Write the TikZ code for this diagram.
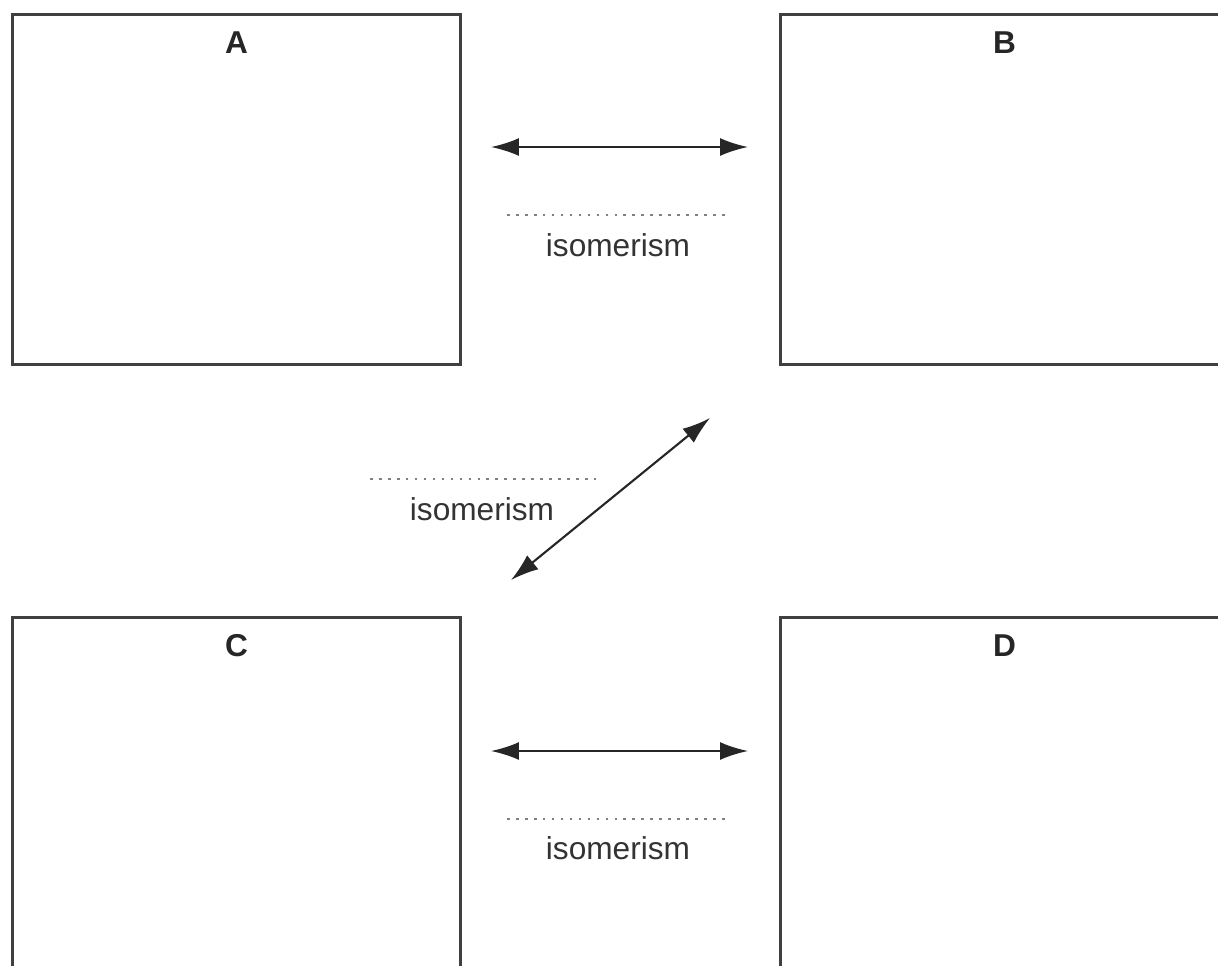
\documentclass[tikz,border=0pt]{standalone}
\usepackage{fontspec}
\setmainfont{Liberation Sans}
\usetikzlibrary{positioning}
\usetikzlibrary{arrows.meta}
\newcommand\boxwidth{8.96cm}
\newcommand\boxheight{7cm}
\tikzset{
    isobox/.style = {draw=black!75, line width=1.7pt, minimum width=\boxwidth, minimum height=\boxheight, inner sep=0pt, anchor=north west},
    boxletter/.style = {font=\fontsize{18}{21}\selectfont\bfseries, text=black!85, inner sep=0pt},
    isoarrow/.style = {{Latex[length=0.56cm,width=0.36cm]}-{Latex[length=0.56cm,width=0.36cm]}, line width=1.2pt, black!85},
    isodots/.style = {gray, line width=1.1pt, dash pattern=on 1.5pt off 3.6pt},
    isotext/.style = {font=\fontsize{18}{21}\selectfont, text=black!80, inner sep=0pt},
}

\begin{document}
\begin{tikzpicture}[x=0.02cm,y=-0.02cm]
         \useasboundingbox (0,0) rectangle (1218,965);
         \clip (0,0) rectangle (1218,965);
         % --- Boxes
         \node[isobox] (A) at (11,13) {};
         \node[isobox] (B) at (779,13) {};
         \node[isobox] (C) at (11,616) {};
         \node[isobox] (D) at (779,616) {};
         % --- Letters
         \node[boxletter, below=0.36cm of A.north] (labA) {A};
         \node[boxletter, below=0.36cm of B.north] (labB) {B};
         \node[boxletter, below=0.36cm of C.north] (labC) {C};
         \node[boxletter, below=0.36cm of D.north] (labD) {D};
         % --- A <-> B
         \coordinate (ab-l) at (491,147);
         \coordinate (ab-r) at (748,147);
         \draw[isoarrow] (ab-l) -- (ab-r);
         \draw[isodots] (507,215) -- (731,215);
         \node[isotext] (isoAB) at (618,245) {isomerism};
         % --- B <-> C
         \coordinate (bc-t) at (710,418);
         \coordinate (bc-b) at (511,580);
         \draw[isoarrow] (bc-b) -- (bc-t);
         \draw[isodots] (370,479) -- (596,479);
         \node[isotext] (isoBC) at (482,509) {isomerism};
         % --- C <-> D
         \coordinate (cd-l) at (491,751);
         \coordinate (cd-r) at (748,751);
         \draw[isoarrow] (cd-l) -- (cd-r);
         \draw[isodots] (507,819) -- (731,819);
         \node[isotext] (isoCD) at (618,848) {isomerism};
\end{tikzpicture}
\end{document}
